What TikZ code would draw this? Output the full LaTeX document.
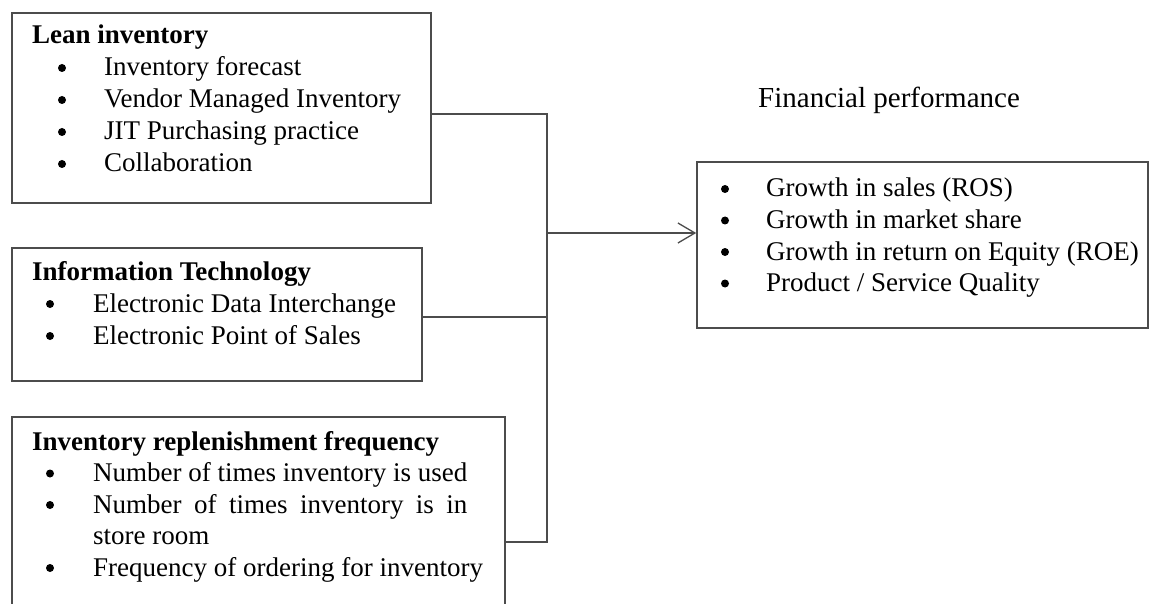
\documentclass[tikz,border=0pt]{standalone}
\usepackage{fontspec}
\usepackage{calc}
\setmainfont{Liberation Serif}
\usetikzlibrary{arrows.meta}
\newlength{\jwidth}
\begin{document}
\begin{tikzpicture}[x=1pt,y=-1pt,
  boxframe/.style={draw=black!70,line width=1.6pt,fill=none},
  conn/.style={draw=black!70,line width=1.3pt},
  txt/.style={anchor=base west,inner sep=0pt,font=\fontsize{27}{31}\selectfont},
  head/.style={txt,font=\fontsize{27}{31}\selectfont\bfseries},
  bul/.style={circle,fill=black,inner sep=0pt,minimum size=8pt}
]
\useasboundingbox (0,0) rectangle (1151,604);
\clip (0,0) rectangle (1151,604);
\fill[white] (0,0) rectangle (1151,604);

% boxes
\node[boxframe,inner sep=0pt,minimum width=419pt,minimum height=190pt] (b1) at (221.5,108) {};
\node[boxframe,inner sep=0pt,minimum width=410pt,minimum height=133pt] (b2) at (217,314.5) {};
\node[boxframe,inner sep=0pt,minimum width=493pt,minimum height=260pt] (b3) at (258.5,547) {};
\node[boxframe,inner sep=0pt,minimum width=451pt,minimum height=166pt] (fp) at (922.5,245) {};

% box 1 text
\node[head] (h1) at (32,44) {Lean inventory};
\node[bul] (d11) at (62,68) {};
\node[txt] (t11) at (104,76) {Inventory forecast};
\node[bul] (d12) at (62,100) {};
\node[txt] (t12) at (104,108) {Vendor Managed Inventory};
\node[bul] (d13) at (62,132) {};
\node[txt] (t13) at (104,140) {JIT Purchasing practice};
\node[bul] (d14) at (62,164) {};
\node[txt] (t14) at (104,172) {Collaboration};

% box 2 text
\node[head] (h2) at (32,280) {Information Technology};
\node[bul] (d21) at (50,304) {};
\node[txt] (t21) at (93,312) {Electronic Data Interchange};
\node[bul] (d22) at (50,336) {};
\node[txt] (t22) at (93,344) {Electronic Point of Sales};

% box 3 text
\node[head] (h3) at (32,450) {Inventory replenishment frequency};
\node[bul] (d31) at (50,473.5) {};
\node[txt] (t31) at (93,481.5) {Number of times inventory is used};
\node[bul] (d32) at (50,505) {};
\node[txt] (t32) at (93,513) {\settowidth{\jwidth}{Number of times inventory is used}\makebox[\jwidth][s]{Number of times inventory is in}};
\node[txt] (t33) at (93,544.5) {store room};
\node[bul] (d34) at (50,568) {};
\node[txt] (t34) at (93,576) {Frequency of ordering for inventory};

% right box
\node[txt,font=\fontsize{29}{33}\selectfont] (ttl) at (758,108) {Financial performance};
\node[bul] (d41) at (725,189) {};
\node[txt] (t41) at (766,197) {Growth in sales (ROS)};
\node[bul] (d42) at (725,220.5) {};
\node[txt] (t42) at (766,228.5) {Growth in market share};
\node[bul] (d43) at (725,252) {};
\node[txt] (t43) at (766,260) {Growth in return on Equity (ROE)};
\node[bul] (d44) at (725,283.5) {};
\node[txt] (t44) at (766,291.5) {Product / Service Quality};

% connectors
\coordinate (j1) at (547,114);
\coordinate (j2) at (547,317);
\coordinate (j3) at (547,542);
\coordinate (j) at (547,233);
\draw[conn] (b1.east|-j1) -- (j1) -- (j3) -- (b3.east|-j3);
\draw[conn] (b2.east|-j2) -- (j2);
\draw[conn,-{Straight Barb[length=17pt,width=20pt,line width=1.3pt]}] (j) -- (fp.west|-j);
\end{tikzpicture}
\end{document}
